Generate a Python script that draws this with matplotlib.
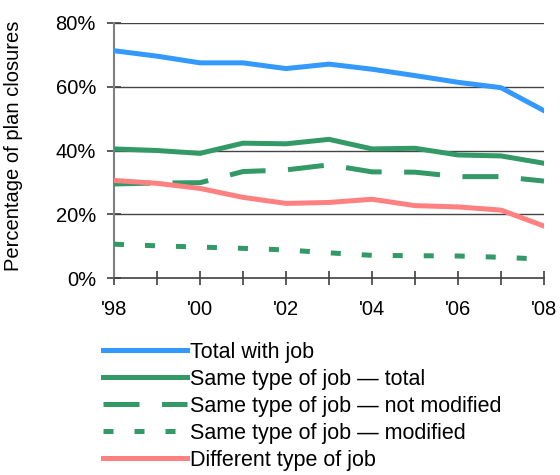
import matplotlib
matplotlib.use("Agg")
import matplotlib.pyplot as plt

plt.rcParams['font.family'] = ['Liberation Sans', 'DejaVu Sans']

years = [1998, 1999, 2000, 2001, 2002, 2003, 2004, 2005, 2006, 2007, 2008]
total_with_job = [71.3, 69.6, 67.5, 67.5, 65.7, 67.1, 65.5, 63.5, 61.4, 59.7, 52.5]
same_total = [40.5, 40.0, 39.1, 42.3, 42.1, 43.5, 40.5, 40.7, 38.6, 38.3, 36.0]
same_not_modified = [29.5, 29.8, 29.9, 33.4, 33.9, 35.5, 33.3, 33.2, 31.8, 31.8, 30.4]
same_modified = [10.6, 10.1, 9.7, 9.3, 8.8, 7.9, 7.1, 7.0, 6.9, 6.5, 5.9]
different = [30.6, 29.7, 28.1, 25.3, 23.4, 23.7, 24.7, 22.7, 22.3, 21.3, 16.3]

tick_years = [1998, 2000, 2002, 2004, 2006, 2008]
tick_labels = ["'98", "'00", "'02", "'04", "'06", "'08"]
y_ticks = [0, 20, 40, 60, 80]
y_labels = ["0%", "20%", "40%", "60%", "80%"]

blue = '#3399ff'
green = '#339966'
red = '#ff8080'

fig = plt.figure(figsize=(5.6, 4.75), dpi=100)
ax = fig.add_axes([114/560, 1 - 278/475, 430/560, 255/475])

for y in [20, 40, 60, 80]:
    ax.axhline(y, color='#444444', lw=1.0, zorder=1)

lw = 3.6
ax.plot(years, total_with_job, color=blue, lw=lw, label='Total with job', zorder=3)
ax.plot(years, same_total, color=green, lw=lw, label='Same type of job — total', zorder=3)
ax.plot(years, same_not_modified, color=green, lw=lw, dashes=(7.2, 4.5),
        label='Same type of job — not modified', zorder=3)
ax.plot(years, same_modified, color=green, lw=lw, dashes=(2.0, 4.2),
        label='Same type of job — modified', zorder=3)
ax.plot(years, different, color=red, lw=lw, label='Different type of job', zorder=3)

ax.set_xlim(1998, 2008)
ax.set_ylim(0, 80)
ax.set_xticks(years)
ax.set_xticklabels([tick_labels[tick_years.index(y)] if y in tick_years else '' for y in years])
ax.set_yticks(y_ticks)
ax.set_yticklabels(y_labels)
ax.tick_params(axis='both', direction='inout', length=10, width=1.2, color='#404040',
               labelsize=14.5)
ax.tick_params(axis='y', pad=8)
ax.tick_params(axis='x', pad=11)
for s in ['top', 'right']:
    ax.spines[s].set_visible(False)
ax.spines['left'].set_color('#808080')
ax.spines['left'].set_linewidth(1.5)
ax.spines['bottom'].set_color('#404040')
ax.spines['bottom'].set_linewidth(1.2)
ax.set_ylabel('Percentage of plan closures', fontsize=14.5)
ax.yaxis.set_label_coords(-(114 - 23) / 430, 0.52)

handles, labels = ax.get_legend_handles_labels()
leg = fig.legend(handles, labels, loc='upper left', bbox_to_anchor=(94/560, 1 - 333/475),
                 frameon=False, fontsize=15.5, handlelength=3.9, handletextpad=0.14,
                 labelspacing=0.28, borderaxespad=0)

fig.savefig('out.png', dpi=100)
